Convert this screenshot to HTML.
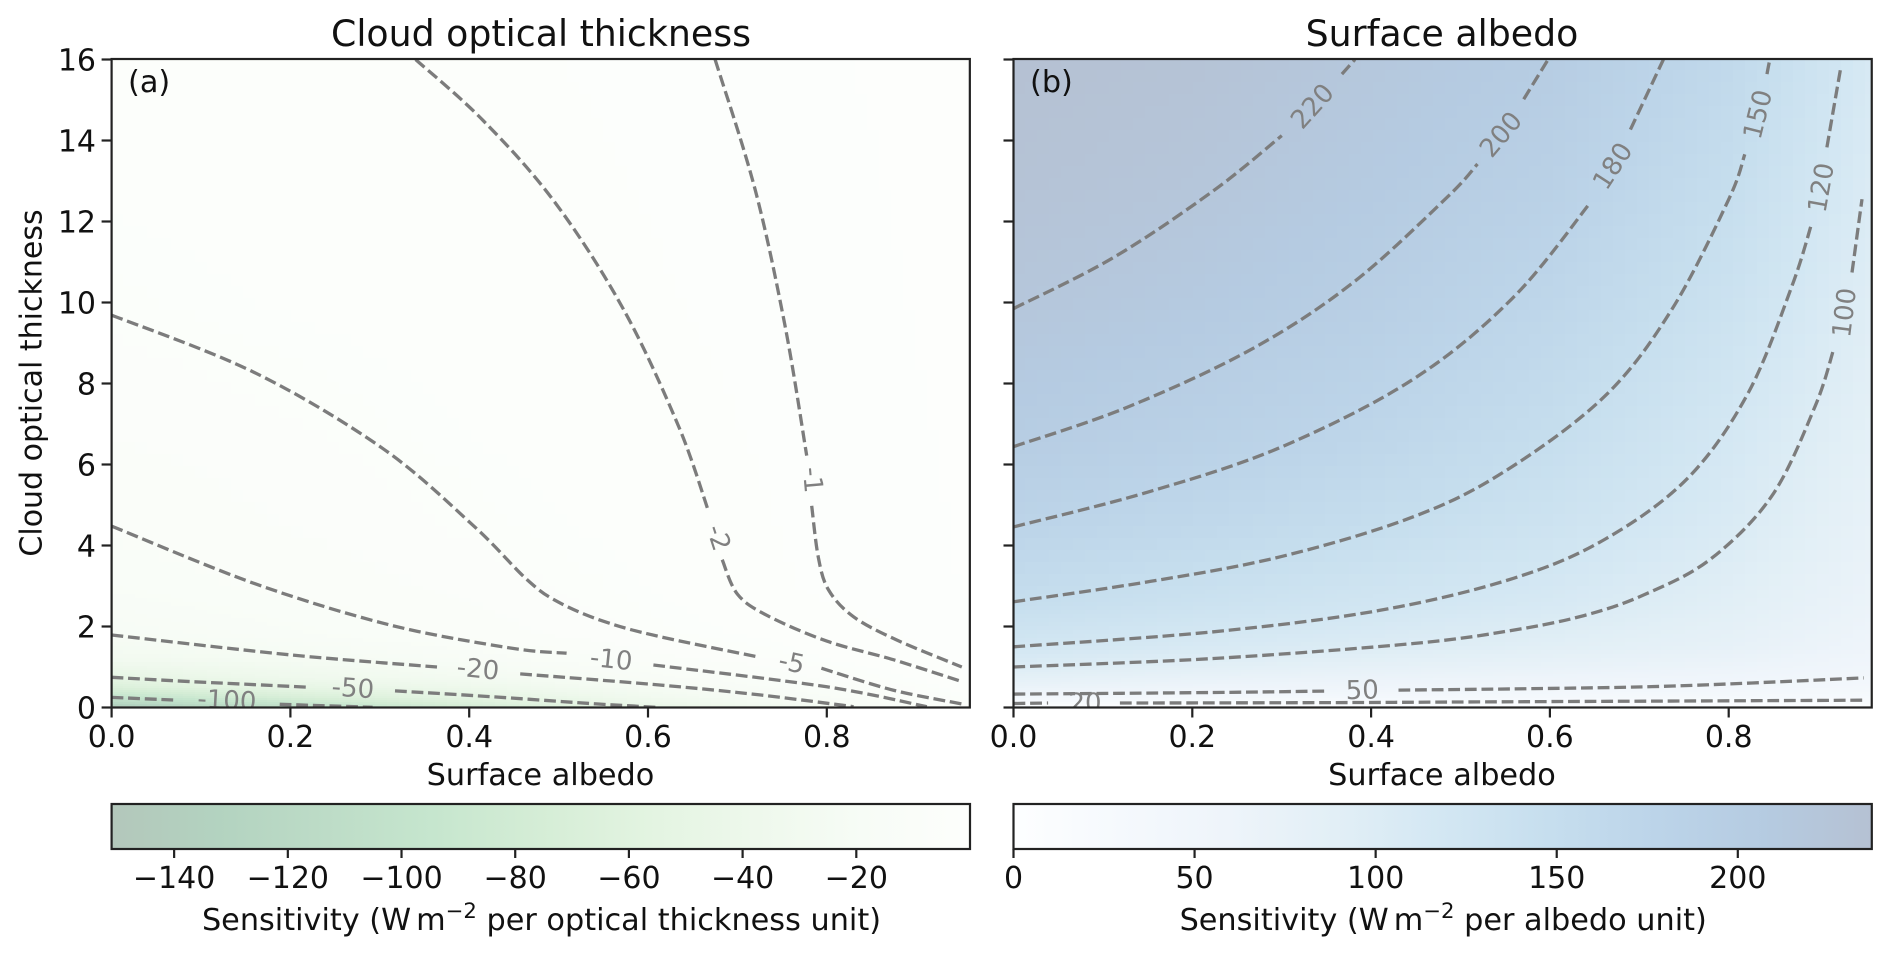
<!DOCTYPE html>
<html lang="en">
<head>
<meta charset="utf-8">
<title>Cloud optical thickness and surface albedo sensitivity</title>
<style>
html,body{margin:0;padding:0;background:#fff;}
svg{display:block;font-family:"DejaVu Sans","Liberation Sans",sans-serif;}
.t30{font-size:30px;fill:#111;}
.t303{font-size:30.3px;fill:#111;}
.t36{font-size:36.3px;fill:#111;}
</style>
</head>
<body>
<svg id="fig" xmlns="http://www.w3.org/2000/svg" width="1892" height="956" viewBox="0 0 1892 956">
  <defs>
    <clipPath id="clipL"><rect x="111.6" y="59" width="858.4" height="648.5"/></clipPath>
    <clipPath id="clipR"><rect x="1013.5" y="59" width="858.3" height="648.5"/></clipPath>
    <linearGradient id="gradL" x1="0" x2="1" y1="0" y2="0"></linearGradient>
    <linearGradient id="gradR" x1="0" x2="1" y1="0" y2="0"></linearGradient>
  </defs>
  <g id="panelA">
    <g id="heatA" clip-path="url(#clipL)" shape-rendering="crispEdges"></g>
    <g id="linesA" clip-path="url(#clipL)"></g>
    <g id="axisA"></g>
    <text class="t36" x="541" y="46" text-anchor="middle">Cloud optical thickness</text>
    <text class="t303" x="128" y="92">(a)</text>
    <text class="t303" x="540.5" y="785" text-anchor="middle">Surface albedo</text>
    <text class="t30" transform="translate(41.5,383) rotate(-90)" text-anchor="middle">Cloud optical thickness</text>
  </g>
  <g id="panelB">
    <g id="heatB" clip-path="url(#clipR)" shape-rendering="crispEdges"></g>
    <g id="linesB" clip-path="url(#clipR)"></g>
    <g id="axisB"></g>
    <text class="t36" x="1442" y="46" text-anchor="middle">Surface albedo</text>
    <text class="t303" x="1030" y="92">(b)</text>
    <text class="t303" x="1442" y="785" text-anchor="middle">Surface albedo</text>
  </g>
  <g id="cbarA">
    <rect x="111.6" y="804" width="858.4" height="45" fill="url(#gradL)" stroke="#222" stroke-width="2.2"/>
    <text class="t303" x="541.5" y="930" text-anchor="middle">Sensitivity (W<tspan dx="5">m</tspan><tspan dy="-12" font-size="21.2">−2</tspan><tspan dy="12"> per optical thickness unit)</tspan></text>
  </g>
  <g id="cbarB">
    <rect x="1013.5" y="804" width="858.3" height="45" fill="url(#gradR)" stroke="#222" stroke-width="2.2"/>
    <text class="t303" x="1443.2" y="930" text-anchor="middle">Sensitivity (W<tspan dx="5">m</tspan><tspan dy="-12" font-size="21.2">−2</tspan><tspan dy="12"> per albedo unit)</tspan></text>
  </g>
</svg>
<script>
/* ---- axis tick data ---- */
const xTicks = [0, 0.2, 0.4, 0.6, 0.8];
const yTicks = [0, 2, 4, 6, 8, 10, 12, 14, 16];
const cbarTicksA = [-140, -120, -100, -80, -60, -40, -20];
const cbarTicksB = [0, 50, 100, 150, 200];

/* ---- heatmap grids ---- */
const gridAlbedo = [0, 0.2, 0.4, 0.6, 0.8, 0.96];
const gridTauA = [0, 0.1, 0.25, 0.5, 0.75, 1.2, 1.8, 3, 4.5, 7, 10, 13, 16];
const fieldA0 = [-151, -125, -100, -67, -50, -30, -20, -13.5, -10, -7, -4.8, -3.5, -2.8];
const fieldA2 = [-115, -95, -72, -50, -36, -24, -15, -9.3, -7.3, -5.5, -3.6, -2.7, -2.2];
const fieldA4 = [-78, -68, -54, -38, -27, -17, -9, -6.6, -5, -3.7, -2.8, -2.2, -1.8];
const fieldA6 = [-52, -42, -32, -23, -16, -8.5, -5, -3.8, -3, -2.3, -1.7, -1.4, -1.2];
const fieldA8 = [-28, -20, -15, -10, -6.5, -3.9, -2.6, -1, -0.9, -0.75, -0.6, -0.5, -0.4];
const fieldA96 = [-9, -4.8, -3.8, -2.2, -1.6, -0.9, -0.5, -0.3, -0.25, -0.2, -0.15, -0.12, -0.1];
const gridTauB = [0, 0.25, 0.5, 1, 1.5, 2.6, 4.5, 6.5, 10, 13, 16];
const fieldB0 = [2, 42, 68, 100, 120, 150, 180, 200, 221, 231, 237];
const fieldB2 = [2, 38, 60, 88, 109, 137, 167, 188, 210, 223, 231];
const fieldB4 = [2, 36, 55, 79, 100, 124, 151, 172, 195, 208, 217];
const fieldB6 = [2, 33, 50, 72, 89, 111, 132, 149, 172, 190, 202];
const fieldB8 = [2, 30, 45, 63, 77, 90, 106, 115, 136, 151, 165];
const fieldB96 = [2, 26, 38, 50, 58, 66, 75, 83, 94, 103, 110];
const colorRangeA = [-151, 0];
const colorRangeB = [0, 237];

/* ---- contour lines: [albedo, optical thickness] ---- */
const contourM1 = [[[.675,16],[.7197,12.8],[.7532,9.43],[.7775,6.22]],
  [[.7831,4.98],[.7905,3.71],[.802,2.9],[.83,2.24],[.878,1.67],[.951,1.0]]];
const contourM2 = [[[.34,16],[.4158,14.49],[.496,12.47],[.5724,9.84],[.6339,6.96],[.6675,4.86]],
  [[.683,3.65],[.70,2.8],[.7327,2.28],[.80,1.64],[.8745,1.18],[.951,.64]]];
const contourM5 = [[[0,9.69],[.16,8.27],[.303,6.4],[.4047,4.49],[.465,3.15],[.50,2.6],[.55,2.13],[.613,1.75],[.725,1.24]],
  [[.794,.97],[.874,.43],[.951,.09]]];
const contourM10 = [[[0,4.48],[.16,3.06],[.311,2.04],[.446,1.47],[.509,1.34]],
  [[.606,1.05],[.80,.51],[.912,.02]]];
const contourM20 = [[[0,1.79],[.2,1.3],[.364,1.0]],
  [[.457,.83],[.613,.555],[.725,.31],[.83,.02]]];
const contourM50 = [[[0,.745],[.088,.64],[.222,.50]],
  [[.317,.41],[.423,.27],[.535,.10],[.613,0]]];
const contourM100 = [[[0,.25],[.069,.185]],
  [[.188,.08],[.292,.005]]];
const contourP220 = [[[0,9.85],[.1119,11.11],[.2237,12.76],[.3001,14.12]],
  [[.3673,15.64],[.382,16]]];
const contourP200 = [[[0,6.44],[.1268,7.41],[.2666,8.85],[.3803,10.5],[.4847,12.59],[.519,13.42]],
  [[.5707,15.02],[.598,16]]];
const contourP180 = [[[0,4.46],[.1491,5.31],[.2983,6.42],[.4474,8.11],[.5593,10.13],[.6453,12.47]],
  [[.69,14.27],[.727,16]]];
const contourP150 = [[[0,2.61],[.1491,3.1],[.2983,3.72],[.4474,4.71],[.5501,5.84],[.6621,7.7],[.7367,9.84],[.8001,12.55],[.818,13.66]],
  [[.8428,15.64],[.846,16]]];
const contourP120 = [[[0,1.5],[.2237,1.87],[.4101,2.4],[.5593,3.19],[.6621,4.16],[.7549,5.68],[.8221,7.78],[.8708,10.41],[.8932,11.98]],
  [[.9098,13.83],[.925,15.76]]];
const contourP100 = [[[0,1],[.2237,1.21],[.4474,1.58],[.5593,1.91],[.638,2.27],[.705,2.78],[.7794,3.66],[.8484,5.23],[.8969,7.45],[.9174,8.85]],
  [[.9379,10.74],[.9491,12.55]]];
const contourP50 = [[[0,.33],[.2237,.37],[.3486,.405]],
  [[.4306,.43],[.5593,.46],[.738,.53],[.951,.73]]];
const contourP20 = [[[0,.10],[.0387,.11]],
  [[.119,.11],[.358,.12],[.545,.14],[.951,.18]]];

/* ---- contour labels: text, albedo, optical thickness, rotation ---- */
const labelsA = [["-1",.785,5.62,85],["-2",.6798,4.2,72],["-5",.761,1.13,12],["-10",.559,1.21,6],["-20",.41,.97,6],["-50",.27,.5,4],["-100",.129,.2,3]];
const labelsB = [["220",.3337,14.86,-48],["200",.5445,14.16,-50],["180",.6695,13.38,-57],["150",.8317,14.65,-76],["120",.9025,12.84,-80],["100",.9285,9.75,-83],["50",.39,.45,-1],["20",.08,.14,0]];

/* ---- colormaps (Greens / Blues at 30% opacity over white) ---- */
const greens = ["#f7fcf5","#e5f5e0","#c7e9c0","#a1d99b","#74c476","#41ab5d","#238b45","#006d2c","#00441b"];
const blues = ["#f7fbff","#deebf7","#c6dbef","#9ecae1","#6baed6","#4292c6","#2171b5","#08519c","#08306b"];
const cmapAlpha = 0.3;

const SVGNS = "http://www.w3.org/2000/svg";
function make(tag, parent) {
  const n = document.createElementNS(SVGNS, tag);
  parent.appendChild(n);
  return n;
}
function xScaleA(a) { return 111.6 + a * 894; }
function xScaleB(a) { return 1013.5 + a * 894; }
function yScale(t) { return 707.5 - t * 40.5; }
function cbarXA(v) { return 111.6 + (v - colorRangeA[0]) / (colorRangeA[1] - colorRangeA[0]) * 858.4; }
function cbarXB(v) { return 1013.5 + (v - colorRangeB[0]) / (colorRangeB[1] - colorRangeB[0]) * 858.3; }

function hexRgb(h) { return [1, 3, 5].map(function (i) { return parseInt(h.substr(i, 2), 16); }); }
function mapColor(list, p) {
  p = Math.max(0, Math.min(1, p));
  const s = p * (list.length - 1), i = Math.min(list.length - 2, Math.floor(s)), f = s - i;
  const c0 = hexRgb(list[i]), c1 = hexRgb(list[i + 1]);
  const rgb = [0, 1, 2].map(function (k) {
    return Math.round(255 * (1 - cmapAlpha) + cmapAlpha * (c0[k] + (c1[k] - c0[k]) * f));
  });
  return "rgb(" + rgb.join(",") + ")";
}
function colorA(v) { return mapColor(greens, 1 - (v - colorRangeA[0]) / (colorRangeA[1] - colorRangeA[0])); }
function colorB(v) { return mapColor(blues, (v - colorRangeB[0]) / (colorRangeB[1] - colorRangeB[0])); }

function fieldValue(rows, taus, a, t) {
  let i = 0; while (i < gridAlbedo.length - 2 && a > gridAlbedo[i + 1]) i++;
  let j = 0; while (j < taus.length - 2 && t > taus[j + 1]) j++;
  const fa = Math.min(1, (a - gridAlbedo[i]) / (gridAlbedo[i + 1] - gridAlbedo[i]));
  const ft = Math.min(1, (t - taus[j]) / (taus[j + 1] - taus[j]));
  const low = rows[i][j] + (rows[i + 1][j] - rows[i][j]) * fa;
  const high = rows[i][j + 1] + (rows[i + 1][j + 1] - rows[i][j + 1]) * fa;
  return low + (high - low) * ft;
}

function drawHeat(parent, rows, taus, xScale, colorFn) {
  const top = 59, bottom = 708, left = Math.floor(xScale(0)), right = Math.ceil(xScale(0.96));
  const colW = 12;
  let y = bottom;
  while (y > top) {
    const tauNow = (707.5 - y) / 40.5;
    const h = tauNow < 1 ? 2 : (tauNow < 3 ? 4 : 12);
    const y0 = Math.max(top, y - h);
    const tMid = Math.max(0, (707.5 - (y0 + y) / 2) / 40.5);
    for (let x = left; x < right; x += colW) {
      const aMid = Math.min(0.96, ((x + colW / 2) - xScale(0)) / 894);
      const r = make("rect", parent);
      
      
      r.setAttribute("x", x);
      r.setAttribute("y", y0);
      r.setAttribute("width", colW);
      r.setAttribute("height", y - y0);
      r.setAttribute("fill", colorFn(fieldValue(rows, taus, aMid, tMid)));
    }
    y = y0;
  }
}

function smoothPath(pts) {
  let d = "M" + pts[0][0].toFixed(1) + " " + pts[0][1].toFixed(1);
  for (let i = 0; i < pts.length - 1; i++) {
    const p0 = pts[Math.max(0, i - 1)], p1 = pts[i], p2 = pts[i + 1], p3 = pts[Math.min(pts.length - 1, i + 2)];
    const c1x = p1[0] + (p2[0] - p0[0]) / 6, c1y = p1[1] + (p2[1] - p0[1]) / 6;
    const c2x = p2[0] - (p3[0] - p1[0]) / 6, c2y = p2[1] - (p3[1] - p1[1]) / 6;
    d += "C" + c1x.toFixed(1) + " " + c1y.toFixed(1) + " " + c2x.toFixed(1) + " " + c2y.toFixed(1) + " " + p2[0].toFixed(1) + " " + p2[1].toFixed(1);
  }
  return d;
}

function drawContours(parent, contours, xScale) {
  contours.forEach(function (segments) {
    segments.forEach(function (seg) {
      const pts = seg.map(function (p) { return [xScale(p[0]), yScale(p[1])]; });
      const path = make("path", parent);
      
      
      path.setAttribute("d", smoothPath(pts));
      path.setAttribute("fill", "none");
      path.setAttribute("stroke", "#7c7c7c");
      path.setAttribute("stroke-width", "3.3");
      path.setAttribute("stroke-dasharray", "11.8 4.8");
    });
  });
}

function drawLabels(parent, labels, xScale) {
  labels.forEach(function (l) {
    const t = make("text", parent);
    
    
    t.setAttribute("transform", "translate(" + xScale(l[1]).toFixed(1) + "," + yScale(l[2]).toFixed(1) + ") rotate(" + l[3] + ")");
    t.setAttribute("text-anchor", "middle");
    t.setAttribute("y", "9.5");
    t.setAttribute("font-size", "26");
    t.setAttribute("fill", "#808080");
    t.textContent = l[0];
  });
}

function tickLine(parent, name, x1, y1, x2, y2) {
  const l = make("line", parent);
  
  
  l.setAttribute("x1", x1);
  l.setAttribute("y1", y1);
  l.setAttribute("x2", x2);
  l.setAttribute("y2", y2);
  l.setAttribute("stroke", "#222");
  l.setAttribute("stroke-width", "2.2");
}
function tickText(parent, name, x, y, anchor, str) {
  const t = make("text", parent);
  
  
  t.setAttribute("class", "t30");
  t.setAttribute("x", x);
  t.setAttribute("y", y);
  t.setAttribute("text-anchor", anchor);
  t.textContent = str;
}

function drawAxes(parent, xScale, showY) {
  const frame = make("rect", parent);
  
  
  frame.setAttribute("x", xScale(0));
  frame.setAttribute("y", 59);
  frame.setAttribute("width", xScale(0.96) - xScale(0));
  frame.setAttribute("height", 648.5);
  frame.setAttribute("fill", "none");
  frame.setAttribute("stroke", "#222");
  frame.setAttribute("stroke-width", "2.2");
  xTicks.forEach(function (v) {
    tickLine(parent, "x-tick", xScale(v), 707.5, xScale(v), 717.5);
    tickText(parent, "x-tick-label", xScale(v), 747, "middle", v.toFixed(1));
  });
  yTicks.forEach(function (v) {
    tickLine(parent, "y-tick", xScale(0) - 10, yScale(v), xScale(0), yScale(v));
    if (showY) { tickText(parent, "y-tick-label", 96, yScale(v) + 11, "end", String(v)); }
  });
}

function fillGradient(id, list) {
  const g = document.getElementById(id);
  list.forEach(function (c, i) {
    const s = make("stop", g);
    s.setAttribute("offset", i / (list.length - 1));
    s.setAttribute("stop-color", c);
  });
}

const rowsA = [fieldA0, fieldA2, fieldA4, fieldA6, fieldA8, fieldA96];
const rowsB = [fieldB0, fieldB2, fieldB4, fieldB6, fieldB8, fieldB96];
drawHeat(document.getElementById("heatA"), rowsA, gridTauA, xScaleA, colorA);
drawHeat(document.getElementById("heatB"), rowsB, gridTauB, xScaleB, colorB);

const linesA = document.getElementById("linesA");
const linesB = document.getElementById("linesB");
drawContours(linesA, [contourM1, contourM2, contourM5, contourM10, contourM20, contourM50, contourM100], xScaleA);
drawContours(linesB, [contourP220, contourP200, contourP180, contourP150, contourP120, contourP100, contourP50, contourP20], xScaleB);
drawLabels(linesA, labelsA, xScaleA);
drawLabels(linesB, labelsB, xScaleB);

drawAxes(document.getElementById("axisA"), xScaleA, true);
drawAxes(document.getElementById("axisB"), xScaleB, false);

fillGradient("gradL", greens.map(function (_, i) { return mapColor(greens, 1 - i / (greens.length - 1)); }));
fillGradient("gradR", blues.map(function (_, i) { return mapColor(blues, i / (blues.length - 1)); }));

const cbarGroupA = document.getElementById("cbarA");
const cbarGroupB = document.getElementById("cbarB");
cbarTicksA.forEach(function (v) {
  tickLine(cbarGroupA, "colorbar-a-tick", cbarXA(v), 849, cbarXA(v), 858);
  tickText(cbarGroupA, "colorbar-a-tick-label", cbarXA(v), 888, "middle", String(v).replace("-", "\u2212"));
});
cbarTicksB.forEach(function (v) {
  tickLine(cbarGroupB, "colorbar-b-tick", cbarXB(v), 849, cbarXB(v), 858);
  tickText(cbarGroupB, "colorbar-b-tick-label", cbarXB(v), 888, "middle", String(v));
});
</script>
</body>
</html>
